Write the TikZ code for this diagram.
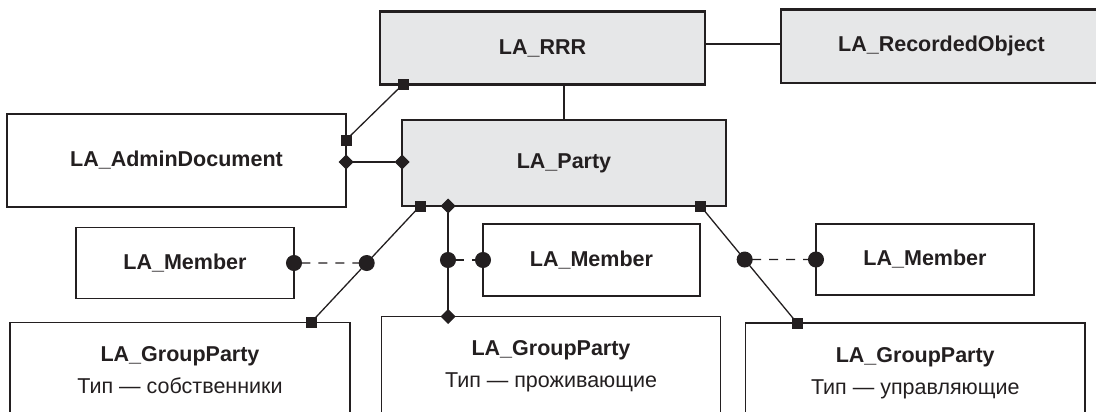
\documentclass[tikz,border=0pt]{standalone}
\usepackage{fontspec}
\setmainfont{Liberation Sans}
\usetikzlibrary{arrows.meta,calc,positioning}
\definecolor{ink}{HTML}{231F20}
\definecolor{classfill}{HTML}{E6E7E8}
\tikzset{
  entity/.style={
    draw=ink,
    line width=1.3pt,
    fill=white,
    text=ink,
    inner sep=0pt,
    outer sep=0pt,
    font=\bfseries\fontsize{21.5}{26}\selectfont
  },
  core/.style={fill=classfill, line width=2.6pt},
  group/.style={
    entity,
    anchor=north,
    align=center,
    inner ysep=24pt,
    text depth=10pt,
    font=\fontsize{21.5}{32}\selectfont
  },
  link/.style={draw=ink, line width=1.3pt},
  diamondlink/.style={link, {Turned Square[length=15pt,width=15pt]}-{Turned Square[length=15pt,width=15pt]}, shorten <=-7.5pt, shorten >=-7.5pt},
  memberlink/.style={link, dash pattern=on 9pt off 8pt, {Circle[length=16pt,width=16pt]}-{Circle[length=16pt,width=16pt]}, shorten <=-8pt, shorten >=-8pt},
  sqend/.pic={\fill[ink] (-5.5pt,-5.5pt) rectangle (5.5pt,5.5pt);}
}

\begin{document}
\begin{tikzpicture}[x=1pt,y=-1pt]
\useasboundingbox (0,0) rectangle (1096,412);
\clip (0,0) rectangle (1096,412);

% --- Upper classes ---
\node[entity, core, minimum width=325pt, minimum height=72.6pt] (rrr) at (542.5,48) {LA\_RRR};
\node[entity, core, minimum width=321pt, minimum height=73.5pt] (recobj) at (941.5,46.2) {LA\_RecordedObject};
\node[entity, core, minimum width=324pt, minimum height=86pt] (party) at (564,163) {LA\_Party};
\node[entity, minimum width=339pt, minimum height=93pt] (admin) at (176.5,160.5) {LA\_AdminDocument};

% --- Members ---
\node[entity, minimum width=218pt, minimum height=71pt] (member1) at (185,263) {LA\_Member};
\node[entity, minimum width=217pt, minimum height=72pt] (member2) at (591.5,260) {LA\_Member};
\node[entity, minimum width=218pt, minimum height=71pt] (member3) at (925,259.5) {LA\_Member};

% --- Group parties ---
\node[group, minimum width=340pt] (gp1) at (180,322.5) {\textbf{LA\_GroupParty}\\Тип — собственники};
\node[group, minimum width=339pt] (gp2) at (551,316.5) {\textbf{LA\_GroupParty}\\Тип — проживающие};
\node[group, minimum width=339.5pt] (gp3) at (915.25,323) {\textbf{LA\_GroupParty}\\Тип — управляющие};

% Attachment points.
\coordinate (pa) at ([xshift=18pt]party.south west);
\coordinate (pb) at ([xshift=46pt]party.south west);
\coordinate (pc) at ([xshift=-25.5pt]party.south east);
\coordinate (ga) at ([xshift=-39pt]gp1.north east);
\coordinate (gc) at ([xshift=51.5pt]gp3.north west);
\coordinate (ja) at (intersection of pa--ga and member1.west--member1.east);
\coordinate (jc) at (intersection of pc--gc and member3.west--member3.east);

% --- Associations ---
\draw[link] ([yshift=4pt]rrr.east) -- ([yshift=4pt]rrr.east -| recobj.west);
\draw[link] (party.north) -- (party.north |- rrr.south);
\draw[link] ([yshift=20.5pt]admin.east) pic{sqend} -- ([xshift=23pt]rrr.south west) pic{sqend};
\draw[diamondlink] ([yshift=-1.5pt]admin.east) -- ([yshift=-1.5pt]admin.east -| party.west);

% --- Party to groups ---
\draw[link] (pa) pic{sqend} -- (ga) pic{sqend};
\draw[diamondlink] (pb) -- (pb |- gp2.north);
\draw[link] (pc) pic{sqend} -- (gc) pic{sqend};

% --- Member links ---
\draw[memberlink] (member1.east) -- (ja);
\draw[memberlink] (pb |- member2.west) -- (member2.west);
\draw[memberlink] (jc) -- (member3.west);

\end{tikzpicture}
\end{document}
